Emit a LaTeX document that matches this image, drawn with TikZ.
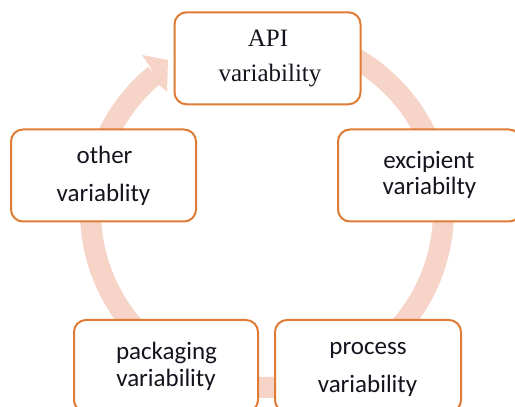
\documentclass[tikz,border=0pt]{standalone}
\usepackage{fontspec}
\usetikzlibrary{calc}
\setmainfont{Carlito}
\newfontfamily\serifapi{Liberation Serif}
\definecolor{ringc}{HTML}{F7D4C8}
\definecolor{boxc}{HTML}{E07B36}
\definecolor{txtc}{HTML}{14141E}
\begin{document}
\begin{tikzpicture}[x=1pt,y=1pt,
  cyclebox/.style={draw=boxc, line width=2pt, fill=white, rounded corners=12pt,
    rectangle, inner sep=0pt, minimum height=92pt},
  lbl/.style={anchor=base, inner sep=0pt, font=\fontsize{25}{30}\selectfont, text=txtc},
  slbl/.style={lbl, font=\fontsize{25}{30}\selectfont\serifapi}]
\useasboundingbox (0,0) rectangle (515,407);
% ring with arrowhead
\coordinate (rc) at (267,196);
\draw[ringc, line width=21pt] ($(rc)+(90:176.5)$) arc[start angle=90, end angle=-230.5, radius=176.5];
\fill[ringc] (150,340) -- (142,352) -- (168,347) -- (167,315) -- (158,323) -- cycle;
% boxes
\node[cyclebox, minimum width=186pt] (api) at (267.5,348.7) {};
\node[cyclebox, minimum width=185pt] (other) at (103.5,231.5) {};
\node[cyclebox, minimum width=183pt] (excip) at (429.5,231.5) {};
\node[cyclebox, minimum width=184pt] (pack) at (166,41) {};
\node[cyclebox, minimum width=186pt] (proc) at (368,41) {};
% texts
\node[slbl] (api1) at (268,360.3) {API};
\node[slbl] (api2) at (270,325) {variability};
\node[lbl] (oth1) at (104.5,243.7) {other};
\node[lbl] (oth2) at (103.5,205.3) {variablity};
\node[lbl] (exc1) at (429,238.7) {excipient};
\node[lbl] (exc2) at (429.5,212) {variabilty};
\node[lbl] (pac1) at (166.5,47) {packaging};
\node[lbl] (pac2) at (166,20.3) {variability};
\node[lbl] (pro1) at (368,52) {process};
\node[lbl] (pro2) at (367.5,14.3) {variability};
\end{tikzpicture}
\end{document}
